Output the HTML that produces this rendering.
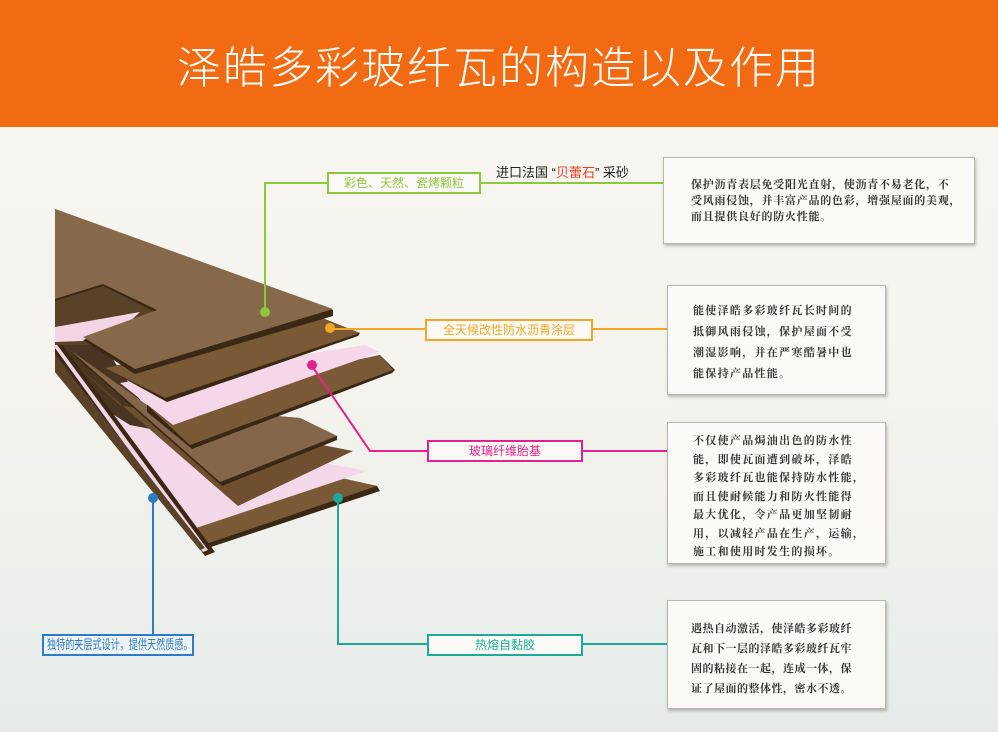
<!DOCTYPE html>
<html><head><meta charset="utf-8"><style>
html,body{margin:0;padding:0;}
body{width:998px;height:732px;position:relative;overflow:hidden;font-family:"Liberation Sans","Noto Sans CJK SC",sans-serif;background:linear-gradient(180deg,#f8f6f0 0%,#f6f4ee 45%,#eef0ec 75%,#e6ebea 100%);}
.hdr{position:absolute;left:0;top:0;width:998px;height:127px;background:#f26b12;}
.hdr div{position:absolute;left:0;width:998px;top:32px;text-align:center;color:#fff;font-size:44px;letter-spacing:2px;font-family:"Noto Sans CJK SC",sans-serif;font-weight:300;}
.box{position:absolute;background:#fbfaf6;border:1px solid #b9b6ac;box-shadow:1px 2px 3px rgba(0,0,0,.25);font-family:"Noto Serif CJK SC",serif;font-weight:bold;font-size:11px;color:#333;}
.box div{position:absolute;white-space:nowrap;}
.lab{position:absolute;box-sizing:border-box;border:2px solid;text-align:center;font-size:12px;background:#fbfaf6;white-space:nowrap;}
</style></head><body>
<div class="hdr"><div>泽皓多彩玻纤瓦的构造以及作用</div></div>
<svg width="998" height="732" style="position:absolute;left:0;top:0">
<polygon points="55,209 55,372 200,547 230,520 147,410 100,340 55,300" fill="#4a3520"/>
<polygon points="120,430 377,486 380,491 202,550 60,372" fill="#3a2814"/>
<polygon points="120,428 377,486 200,546 62,372" fill="#7a5a36"/>
<polygon points="130,425 367,471 190,530 90,400" fill="#f4d8ea"/>
<polygon points="120,405 353,451 238,506 70,360" fill="#6e5030"/>
<polygon points="147,405 300,418 337,436 337,440 222,486 70,352" fill="#3a2814"/>
<polygon points="147,405 300,418 337,436 220,482 70,350" fill="#84674a"/>
<polygon points="55,335 215,552 205,556 55,352" fill="#3a2814"/>
<polygon points="55,342 208,550 203,552 55,348" fill="#f3d5e6"/>
<polygon points="55,355 205,548 200,550 55,372" fill="#5a4228"/>
<polygon points="147,405 380,355 395,370 392,373 192,449 147,412" fill="#3a2814"/>
<polygon points="147,405 380,355 393,370 190,445" fill="#7a5a36"/>
<polygon points="120,383 365,345 380,352 173,425" fill="#f6d7ea"/>
<polygon points="105,368 322,318 360,333 358,336 167,402" fill="#3a2814"/>
<polygon points="105,368 322,318 360,333 165,398" fill="#7a5a36"/>
<polygon points="55,297 103,284 157,311 100,345 55,345" fill="#5a4228"/>
<polygon points="55,327 140,312 110,340 55,342" fill="#f3d5e6"/>
<polygon points="55,209 333,310 333,316 135,374 83,340 157,313 103,286 55,301" fill="#3a2814"/>
<polygon points="55,209 333,309 135,369 83,337 157,310 103,284 55,299" fill="#86694a"/>
<g fill="none" stroke-width="2">
<polyline points="265,313 265,183 327,183" stroke="#8dc63f"/><line x1="481" y1="183" x2="663" y2="183" stroke="#8dc63f"/>
<polyline points="330,329 425,329" stroke="#f5a623"/><line x1="593" y1="329" x2="667" y2="329" stroke="#f5a623"/>
<polyline points="312,366 370,451 427,451" stroke="#e3238b"/><line x1="583" y1="451" x2="667" y2="451" stroke="#e3238b"/>
<polyline points="338,498 338,644 427,644" stroke="#1eaa9b"/><line x1="583" y1="644" x2="667" y2="644" stroke="#1eaa9b"/>
<line x1="153" y1="498" x2="153" y2="634" stroke="#2b7cc4"/>
</g>
<circle cx="265" cy="312" r="5" fill="#8dc63f"/><circle cx="330" cy="328" r="5" fill="#f5a623"/>
<circle cx="312" cy="365" r="5" fill="#e3238b"/><circle cx="338" cy="498" r="5" fill="#1eaa9b"/>
<circle cx="153" cy="498" r="5" fill="#2b7cc4"/>
</svg>
<div class="lab" style="left:327px;top:172px;width:154px;height:22px;line-height:18px;border-color:#8dc63f;color:#8dc63f">彩色、天然、瓷烤颗粒</div>
<div style="position:absolute;left:496px;top:162px;font-size:13px;color:#222">进口法国 “<span style="color:#e5412a">贝蕾石</span>” 采砂</div>
<div class="lab" style="left:425px;top:319px;width:168px;height:22px;line-height:18px;border-color:#f5a623;color:#f5a623">全天候改性防水沥青涂层</div>
<div class="lab" style="left:427px;top:440px;width:156px;height:22px;line-height:18px;border-color:#e3238b;color:#e3238b">玻璃纤维胎基</div>
<div class="lab" style="left:427px;top:634px;width:156px;height:22px;line-height:18px;border-color:#1eaa9b;color:#1eaa9b">热熔自黏胶</div>
<div class="lab" style="left:42px;top:634px;width:152px;height:22px;line-height:18px;border-color:#2b7cc4;color:#2b7cc4;font-size:13px;background:#eef3f5;text-align:left"><span style="display:inline-block;transform:scaleX(0.7);transform-origin:0 50%;margin-left:3px">独特的夹层式设计，提供天然质感。</span></div>
<div class="box" style="left:663px;top:157px;width:310px;height:85px;"><div style="left:27px;top:18px;line-height:16px;letter-spacing:0.75px">保护沥青表层免受阳光直射，使沥青不易老化，不<br>受风雨侵蚀，并丰富产品的色彩，增强屋面的美观，<br>而且提供良好的防火性能。</div></div>
<div class="box" style="left:667px;top:285px;width:217px;height:108px;"><div style="left:25px;top:14px;line-height:21px;letter-spacing:1.3px">能使泽皓多彩玻纤瓦长时间的<br>抵御风雨侵蚀，保护屋面不受<br>潮湿影响，并在严寒酷暑中也<br>能保持产品性能。</div></div>
<div class="box" style="left:667px;top:422px;width:217px;height:140px;"><div style="left:25px;top:8px;line-height:18.5px;letter-spacing:1.3px">不仅使产品焗油出色的防水性<br>能，即使瓦面遭到破坏，泽皓<br>多彩玻纤瓦也能保持防水性能，<br>而且使耐候能力和防火性能得<br>最大优化，令产品更加坚韧耐<br>用，以减轻产品在生产，运输，<br>施工和使用时发生的损坏。</div></div>
<div class="box" style="left:667px;top:600px;width:217px;height:107px;"><div style="left:23px;top:17px;line-height:20px;letter-spacing:0.5px">遇热自动激活，使泽皓多彩玻纤<br>瓦和下一层的泽皓多彩玻纤瓦牢<br>固的粘接在一起，连成一体，保<br>证了屋面的整体性，密水不透。</div></div>
</body></html>
